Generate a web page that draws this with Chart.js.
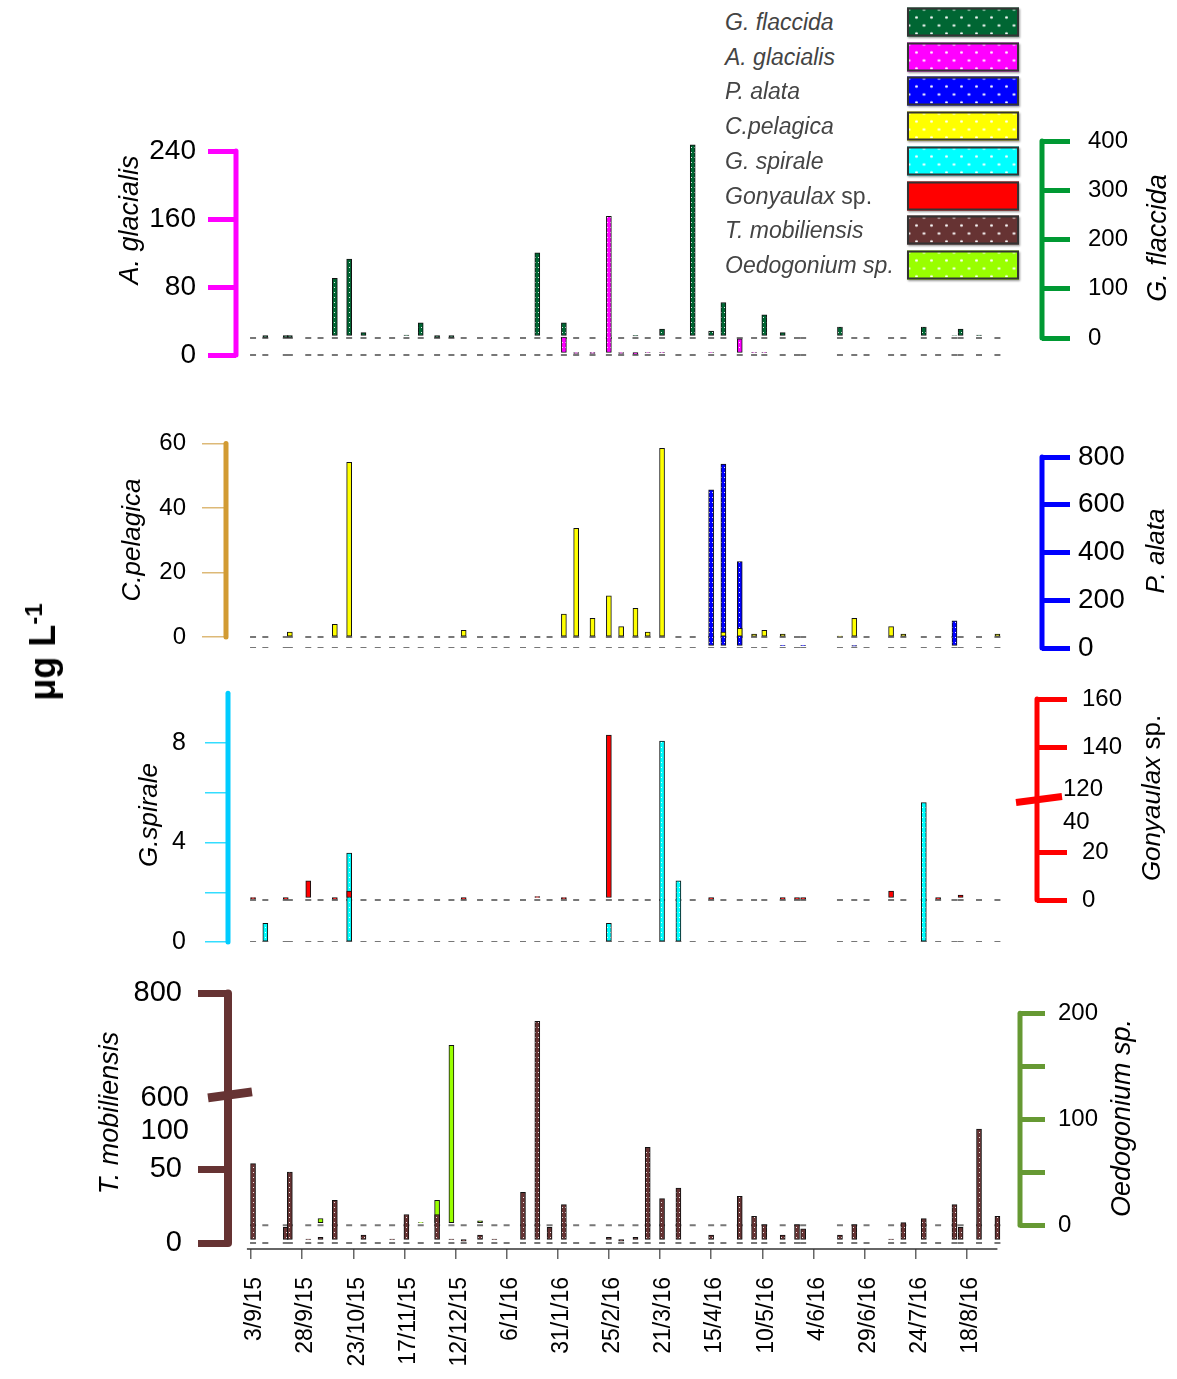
<!DOCTYPE html>
<html>
<head>
<meta charset="utf-8">
<script src="https://cdn.jsdelivr.net/npm/chart.js@4.4.1/dist/chart.umd.min.js"></script>
<style>
body{margin:0;background:#fff;width:1177px;height:1379px;position:relative;overflow:hidden;font-family:"Liberation Sans",Arial,sans-serif}
canvas{position:absolute;left:0}
#legend{position:absolute;left:0;top:0;z-index:5}
#legend .t{position:absolute;left:725px;font:italic 23px "Liberation Sans",Arial,sans-serif;color:#444;transform:translateY(-50%);white-space:nowrap}
#legend .t span{font-style:normal}
#legend .b{position:absolute;left:907px;width:108px;height:25px;border:2px solid #333;transform:translateY(-50%);box-shadow:1px 1px 2px #999}
#ylab{position:absolute;left:42px;top:652px;transform:translate(-50%,-50%) rotate(-90deg);font:bold 36px "Liberation Sans",Arial,sans-serif;white-space:nowrap}
#ylab sup{font-size:24px}
</style>
</head>
<body>
<div id="legend"></div>
<canvas id="p1"></canvas>
<canvas id="p2"></canvas>
<canvas id="p3"></canvas>
<canvas id="p4"></canvas>
<div id="ylab">&mu;g L<sup>-1</sup></div>
<script>
// sampling dates, as days after 3/9/15
var sampleDays = [1,7,17,19,28,34,41,48,55,62,69,76,83,91,98,104,112,119,125,133,
    140,146,153,159,167,175,181,188,194,201,209,216,225,231,239,246,251,260,267,270,
    288,295,301,313,319,329,336,344,347,356,365];

var dateTicks = [0,25,50,75,100,125,150,175,200,225,250,275,300,325,350];
var dateLabels = ['3/9/15','28/9/15','23/10/15','17/11/15','12/12/15','6/1/16','31/1/16',
    '25/2/16','21/3/16','15/4/16','10/5/16','4/6/16','29/6/16','24/7/16','18/8/16'];

var gFlaccida = [0,1,1,1,0,0,121,160,11,0, 0,6,31,1,1,0,0,0,0,0, 173,0,31,0,0,5,0,4,0,18,
    0,392,14,72,0,0,47,11,0,0, 22,0,0,0,0,22,0,5,18,6, 0];
var aGlacialis = [0,0,0,0,0,0,0,0,0,0, 0,0,0,0,0,0,0,0,0,0, 0,0,21,2,2,163,2,1,3,3,
    0,0,3,0,19,3,3,0,0,0, 0,0,0,0,0,0,0,0,0,0, 0];
var cPelagica = [0,0,0,1.5,0,0,3.9,54.2,0,0, 0,0,0,0,0,2.1,0,0,0,0, 0,0,7.1,33.7,5.8,12.8,3.2,8.9,1.5,58.5,
    0,0,0,1.5,2.7,0.9,2.1,0.9,0,0, 0.3,5.8,0,3.2,0.9,0,0,0,0,0, 0.9];
var pAlata = [0,0,0,0,0,0,0,0,0,0, 0,0,0,0,0,0,0,0,0,0, 0,0,0,0,0,0,0,0,0,0,
    0,0,662,770,362,0,0,10,0,10, 0,8,0,0,0,0,0,114,0,0, 0];
var gSpirale = [0,0.75,0,0,0,0,0,3.57,0,0, 0,0,0,0,0,0,0,0,0,0, 0,0,0,0,0,0.75,0,0,0,8.08,
    2.46,0,0,0,0,0,0,0,0,0, 0,0,0,0,0,5.6,0,0,0,0, 0];
var gonyaulax = [0.5,0,0.3,0,8,0,0.3,3.75,0,0, 0,0,0,0,0,0.3,0,0,0,0, 1.4,0,0.5,0,0,145,0,0,0,0,
    0,0,0.3,0,0,0,0,0.3,0.3,0.3, 0,0,0,3.75,0,0,0.3,0,2.1,0, 0];
var tMobiliensis = [53.9,0,10.6,48.2,2.7,3.8,29,0,5.4,0, 2.7,19.4,0,19.4,2.7,1.3,5.4,2.7,0,34.5,
    745.6,10.6,26.1,0,0,3.8,1.3,3.8,65,30.2, 37.4,0,5.4,0,31.8,18.2,12.6,5.4,12.6,9.7,
    5.4,12.6,0,2.7,13.9,16.6,0,26.1,10.6,77.5, 18.2];
var oedogonium = [0,0,0,0,0,6.3,0,0,0,0, 0,0,2.5,23.5,169.7,0,4,0,0,0, 0,0,0,0,0,0,0,0,0,0,
    0,0,0,0,0,0,0,0,0,0, 0,0,0,0,0,0,0,0,0,0, 0];

var glacialisTicks = [0,80,160,240];
var flaccidaTicks = [0,100,200,300,400];
var pelagicaTicks = [0,20,40,60];
var alataTicks = [0,200,400,600,800];
var spiraleTicks = [0,2,4,6,8];
var spiraleLabels = ['0','','4','','8'];
var gonyaulaxTicks = [0,20,140,160];
var mobiliensisTicks = [0,50,800];
var oedogoniumTicks = [0,50,100,150,200];
var oedogoniumLabels = ['0','','100','','200'];

var legendNames = ['<i>G. flaccida</i>','<i>A. glacialis</i>','<i>P. alata</i>','<i>C.pelagica</i>',
    '<i>G. spirale</i>','<i>Gonyaulax</i><span> sp.</span>','<i>T. mobiliensis</i>','<i>Oedogonium sp.</i>'];
var legendColors = ['#006633','#FF00FF','#0000FF','#FFFF00','#00FFFF','#FF0000','#663333','#99FF00'];
var legendDotted = [true,true,true,true,true,false,true,true];

// broken axes
function gonyTf(v) { return v <= 40 ? v : 43.75 + (v - 120); }
function mobTf(v) { return v <= 100 ? v : 100 + (v - 600) * 0.348; }

var W = 1177, X0 = 251, PX_DAY = 2.045;
Chart.defaults.font.family = '"Liberation Sans", Arial, sans-serif';
Chart.defaults.color = '#000';

function dots(color) {
    var c = document.createElement('canvas');
    c.width = 3; c.height = 5;
    var g = c.getContext('2d');
    g.fillStyle = color; g.fillRect(0, 0, 3, 5);
    g.fillStyle = 'rgba(255,255,255,0.9)'; g.fillRect(1, 2, 1, 1);
    return g.createPattern(c, 'repeat');
}

function bars(vals, axis, fill, order, tf) {
    return {
        type: 'bar', yAxisID: axis, order: order,
        data: sampleDays.map(function(d, i) {
            return {x: d, y: vals[i] ? (tf ? tf(vals[i]) : vals[i]) : null};
        }),
        backgroundColor: fill, borderColor: '#111', borderWidth: 1,
        borderSkipped: false, barThickness: 5, grouped: false
    };
}
function zeroMarks(axis) {
    return {
        type: 'scatter', yAxisID: axis, order: 10,
        data: sampleDays.map(function(d) { return {x: d, y: 0}; }),
        pointStyle: 'line', pointRadius: 3, pointHoverRadius: 3,
        borderColor: '#777', pointBorderColor: '#777', pointBorderWidth: 2
    };
}

function yScale(ax, pos, a) {
    return {
        type: 'linear', position: pos,
        min: -(a.bottom - ax.zeroY) / ax.ppu,
        max: (ax.zeroY - a.top) / ax.ppu,
        afterBuildTicks: function(s) { s.ticks = ax.ticks.map(function(v) { return {value: v}; }); },
        afterFit: function(s) { s.width = pos === 'left' ? a.left : W - a.right; },
        ticks: {
            autoSkip: false, padding: ax.pad, color: '#000', font: {size: ax.font},
            callback: function(v, i) { return ax.labels[i]; }
        },
        grid: {drawOnChartArea: false, drawTicks: true, tickLength: ax.tickLen,
            color: ax.tickColor, tickColor: ax.tickColor, lineWidth: ax.tickWidth},
        border: {display: false}
    };
}

function drawTitle(ctx, t, top0) {
    ctx.save();
    ctx.translate(t.x, t.y - top0);
    ctx.rotate(-Math.PI / 2);
    ctx.fillStyle = '#000';
    ctx.textBaseline = 'middle';
    var total = 0, fonts = [];
    t.parts.forEach(function(p) {
        var f = (p[1] ? 'italic ' : '') + t.size + 'px "Liberation Sans", Arial, sans-serif';
        ctx.font = f; fonts.push(f); total += ctx.measureText(p[0]).width;
    });
    var x = -total / 2;
    ctx.textAlign = 'left';
    t.parts.forEach(function(p, i) {
        ctx.font = fonts[i]; ctx.fillText(p[0], x, 0); x += ctx.measureText(p[0]).width;
    });
    ctx.restore();
}

function buildPanel(p) {
    var cv = document.getElementById(p.id);
    var top0 = p.band[0];
    cv.width = W; cv.height = p.band[1] - top0;
    cv.style.top = top0 + 'px';
    var a = p.area;
    var xOpts = {
        type: 'linear', offset: false, display: !!p.showX,
        min: (a.left - X0) / PX_DAY, max: (a.right - X0) / PX_DAY,
        grid: {offset: false, drawOnChartArea: false, drawTicks: true, tickLength: 10,
            color: '#666', tickColor: '#666', lineWidth: 1.5},
        border: {display: false}
    };
    if (p.showX) {
        xOpts.afterBuildTicks = function(s) { s.ticks = dateTicks.map(function(v) { return {value: v}; }); };
        xOpts.afterFit = function(s) { s.height = p.band[1] - a.bottom; };
        xOpts.ticks = {autoSkip: false, minRotation: 90, maxRotation: 90, padding: 18, labelOffset: 4,
            font: {size: 23}, color: '#000',
            callback: function(v, i) { return dateLabels[i]; }};
    }
    var deco = {
        id: 'deco_' + p.id,
        afterDraw: function(chart) {
            var ctx = chart.ctx;
            [['yL', p.left], ['yR', p.right]].forEach(function(e) {
                var s = chart.scales[e[0]], ax = e[1];
                var x = e[0] === 'yL' ? s.right : s.left;
                ctx.save();
                ctx.strokeStyle = ax.color; ctx.lineWidth = ax.width; ctx.lineCap = 'round';
                ctx.beginPath();
                ctx.moveTo(x, s.getPixelForValue(ax.lineFrom));
                ctx.lineTo(x, s.getPixelForValue(ax.lineTo));
                ctx.stroke();
                ctx.restore();
                drawTitle(ctx, ax.title, top0);
            });
            if (p.extra) p.extra(chart, ctx, top0);
        }
    };
    new Chart(cv, {
        type: 'bar',
        data: {datasets: p.datasets},
        options: {
            responsive: false, animation: false, events: [],
            layout: {padding: {top: a.top - top0, bottom: p.showX ? 0 : p.band[1] - a.bottom, left: 0, right: 0}},
            plugins: {legend: {display: false}, tooltip: {enabled: false}},
            scales: {x: xOpts, yL: yScale(p.left, 'left', a), yR: yScale(p.right, 'right', a)}
        },
        plugins: [deco]
    });
}

// legend
var lg = document.getElementById('legend');
legendNames.forEach(function(n, i) {
    var y = 22 + i * 34.7;
    var t = document.createElement('div');
    t.className = 't'; t.style.top = y + 'px'; t.innerHTML = n;
    var b = document.createElement('div');
    b.className = 'b'; b.style.top = y + 'px'; b.style.background = legendColors[i];
    if (legendDotted[i]) {
        b.style.backgroundImage = 'radial-gradient(circle, rgba(255,255,255,.95) 0 1px, transparent 1.6px),' +
            'radial-gradient(circle, rgba(255,255,255,.95) 0 1px, transparent 1.6px)';
        b.style.backgroundSize = '15px 16px';
        b.style.backgroundPosition = '0px 0px, 7.5px 8px';
    }
    lg.appendChild(t); lg.appendChild(b);
});

buildPanel({
    id: 'p1', band: [100, 400], area: {left: 236, right: 1042, top: 141, bottom: 356},
    left: {zeroY: 355, ppu: 0.85, ticks: glacialisTicks, labels: glacialisTicks.map(String),
        color: '#FF00FF', width: 5, tickLen: 28, tickWidth: 5, tickColor: '#FF00FF', pad: 12, font: 28,
        lineFrom: 0, lineTo: 240, title: {parts: [['A. glacialis', true]], x: 130, y: 220, size: 27}},
    right: {zeroY: 338, ppu: 0.4925, ticks: flaccidaTicks, labels: flaccidaTicks.map(String),
        color: '#009933', width: 5, tickLen: 28, tickWidth: 5, tickColor: '#009933', pad: 18, font: 24,
        lineFrom: 0, lineTo: 400, title: {parts: [['G. flaccida', true]], x: 1158, y: 238, size: 27}},
    datasets: [
        bars(aGlacialis, 'yL', dots('#FF00FF'), 1),
        bars(gFlaccida, 'yR', dots('#006633'), 2),
        zeroMarks('yL'), zeroMarks('yR')
    ]
});

buildPanel({
    id: 'p2', band: [400, 690], area: {left: 226, right: 1042, top: 443, bottom: 648},
    left: {zeroY: 637, ppu: 3.225, ticks: pelagicaTicks, labels: pelagicaTicks.map(String),
        color: '#D29B33', width: 5, tickLen: 24, tickWidth: 1.5, tickColor: '#DDB977', pad: 16, font: 24,
        lineFrom: 0, lineTo: 60, title: {parts: [['C.pelagica', true]], x: 133, y: 540, size: 26}},
    right: {zeroY: 648, ppu: 0.23875, ticks: alataTicks, labels: alataTicks.map(String),
        color: '#0000FF', width: 5, tickLen: 28, tickWidth: 5, tickColor: '#0000FF', pad: 8, font: 28,
        lineFrom: 0, lineTo: 800, title: {parts: [['P. alata', true]], x: 1157, y: 551, size: 26}},
    datasets: [
        bars(cPelagica, 'yL', '#FFFF00', 1),
        bars(pAlata, 'yR', dots('#0000FF'), 2),
        zeroMarks('yL'), zeroMarks('yR')
    ]
});

buildPanel({
    id: 'p3', band: [640, 990], area: {left: 228, right: 1037, top: 692, bottom: 942},
    left: {zeroY: 942, ppu: 24.875, ticks: spiraleTicks, labels: spiraleLabels,
        color: '#00CCFF', width: 5, tickLen: 23, tickWidth: 1.5, tickColor: '#33DDFF', pad: 19, font: 25,
        lineFrom: 0, lineTo: 10, title: {parts: [['G.spirale', true]], x: 150, y: 815, size: 26}},
    right: {zeroY: 900, ppu: 2.4, ticks: gonyaulaxTicks.map(gonyTf), labels: gonyaulaxTicks.map(String),
        color: '#FF0000', width: 5, tickLen: 30, tickWidth: 5, tickColor: '#FF0000', pad: 15, font: 24,
        lineFrom: 0, lineTo: gonyTf(160),
        title: {parts: [['Gonyaulax', true], [' sp.', false]], x: 1153, y: 798, size: 26}},
    datasets: [
        bars(gonyaulax, 'yR', '#FF0000', 1, gonyTf),
        bars(gSpirale, 'yL', dots('#00FFFF'), 2),
        zeroMarks('yL'), zeroMarks('yR')
    ],
    extra: function(chart, ctx, top0) {
        var s = chart.scales.yR, x = s.left, bp = s.getPixelForValue(41.9);
        ctx.save();
        ctx.strokeStyle = '#FF0000'; ctx.lineWidth = 7;
        ctx.beginPath(); ctx.moveTo(x - 21, bp + 3); ctx.lineTo(x + 25, bp - 3); ctx.stroke();
        ctx.fillStyle = '#000'; ctx.font = '24px "Liberation Sans", Arial, sans-serif';
        ctx.textAlign = 'left'; ctx.textBaseline = 'middle';
        ctx.fillText('120', x + 26, bp - 10);
        ctx.fillText('40', x + 26, bp + 23);
        ctx.restore();
    }
});

buildPanel({
    id: 'p4', band: [960, 1379], area: {left: 228, right: 1020, top: 992, bottom: 1249}, showX: true,
    left: {zeroY: 1243, ppu: 1.48, ticks: mobiliensisTicks.map(mobTf), labels: mobiliensisTicks.map(String),
        color: '#663333', width: 8, tickLen: 30, tickWidth: 7, tickColor: '#663333', pad: 16, font: 29,
        lineFrom: 0, lineTo: mobTf(800), title: {parts: [['T. mobiliensis', true]], x: 110, y: 1113, size: 27}},
    right: {zeroY: 1225, ppu: 1.065, ticks: oedogoniumTicks, labels: oedogoniumLabels,
        color: '#669933', width: 5, tickLen: 25, tickWidth: 5, tickColor: '#669933', pad: 13, font: 24,
        lineFrom: 0, lineTo: 200, title: {parts: [['Oedogonium sp.', true]], x: 1122, y: 1118, size: 27}},
    datasets: [
        bars(tMobiliensis, 'yL', dots('#663333'), 1, mobTf),
        bars(oedogonium, 'yR', '#99FF00', 2),
        zeroMarks('yL'), zeroMarks('yR')
    ],
    extra: function(chart, ctx, top0) {
        var s = chart.scales.yL, x = s.right, bp = s.getPixelForValue(100);
        var xs = chart.scales.x, yb = chart.chartArea.bottom;
        ctx.save();
        ctx.strokeStyle = '#333'; ctx.lineWidth = 1.5;
        ctx.beginPath(); ctx.moveTo(xs.getPixelForValue(-2), yb); ctx.lineTo(xs.getPixelForValue(365), yb); ctx.stroke();
        ctx.strokeStyle = '#663333'; ctx.lineWidth = 9;
        ctx.beginPath(); ctx.moveTo(x - 20, bp + 2); ctx.lineTo(x + 24, bp - 4); ctx.stroke();
        ctx.fillStyle = '#000'; ctx.font = '29px "Liberation Sans", Arial, sans-serif';
        ctx.textAlign = 'right'; ctx.textBaseline = 'middle';
        ctx.fillText('600', x - 39, bp + 2);
        ctx.fillText('100', x - 39, bp + 35);
        ctx.restore();
    }
});
</script>
</body>
</html>
